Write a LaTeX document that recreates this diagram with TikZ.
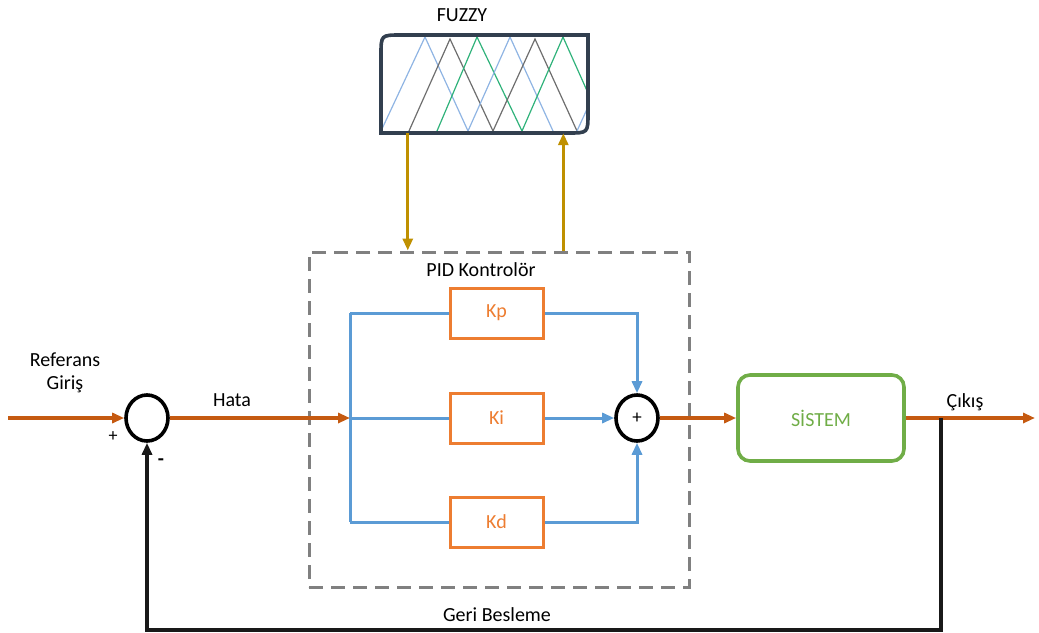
\documentclass[tikz,border=0pt]{standalone}
\usepackage{fontspec}
\setmainfont{Carlito}
\usetikzlibrary{arrows.meta,shapes.geometric,calc}
\definecolor{flow}{HTML}{C55A11}
\definecolor{gain}{HTML}{ED7D31}
\definecolor{branch}{HTML}{5B9BD5}
\definecolor{plant}{HTML}{70AD47}
\definecolor{tune}{HTML}{BF9000}
\definecolor{frame}{HTML}{323F4F}
\definecolor{mfblue}{HTML}{8FB4E3}
\definecolor{mfgray}{HTML}{6E6E6E}
\definecolor{mfgreen}{HTML}{2FB27A}
\tikzset{
  tip/.style={-{Triangle[length=12pt,width=10pt]}},
  sumnode/.style={ellipse,draw=black,line width=3.6pt,minimum width=42pt,minimum height=46pt,inner sep=0pt,font=\fontsize{19}{20}\selectfont},
  gainbox/.style={rectangle,draw=gain,line width=3pt,minimum width=93pt,minimum height=50pt,text=gain,font=\fontsize{20}{22}\selectfont},
  lbl/.style={font=\fontsize{20}{23}\selectfont,align=center,inner sep=0pt},
  sig/.style={draw=flow,line width=3.5pt},
  br/.style={draw=branch,line width=3pt},
  fb/.style={draw=black!90,line width=3.5pt},
  adj/.style={draw=tune,line width=3pt},
}
\begin{document}
\begin{tikzpicture}[x=1pt,y=-1pt]
\useasboundingbox (0,0) rectangle (1039,632);

% fuzzy block with membership functions
\node (fuzzy) [minimum width=207pt,minimum height=98pt,inner sep=0pt] at (484.5,84) {};
\node[lbl] (fuzzytxt) at (462,15) {FUZZY};
\begin{scope}
  \clip (381,133) -- (381,55) .. controls (381,35) .. (401,35) -- (588,35) -- (588,113) .. controls (588,133) .. (568,133) -- cycle;
  \begin{scope}[line width=1.2pt]
    \draw[mfblue]  (381,131) -- (425,37) -- (468,131);
    \draw[mfgray]  (409,131) -- (450,39) -- (493,131);
    \draw[mfgreen] (437,131) -- (477,37) -- (522,131);
    \draw[mfblue]  (468,131) -- (510,37) -- (553,131);
    \draw[mfgray]  (493,131) -- (535,39) -- (577,131);
    \draw[mfgreen] (522,131) -- (563,37) -- (605,131);
    \draw[mfblue]  (577,131) -- (620,37);
  \end{scope}
\end{scope}
\draw[frame,line width=3.6pt] (381,133) -- (381,55) .. controls (381,35) .. (401,35) -- (588,35) -- (588,113) .. controls (588,133) .. (568,133) -- cycle;

% PID controller frame
\node (pid) [draw=gray,dashed,dash pattern=on 14pt off 8pt,line width=3pt,minimum width=380pt,minimum height=335pt,inner sep=0pt] at (499,419.5) {};
\node[lbl] (pidtxt) at (481,270) {PID Kontrolör};

\coordinate (dn) at ($(fuzzy.south west)!0.13!(fuzzy.south east)$);
\coordinate (up) at ($(fuzzy.south west)!0.88!(fuzzy.south east)$);
\draw[adj,tip,tune] (dn) -- (dn |- pid.north);
\draw[adj,tip,tune] (up |- pid.north) -- (up);

% gains
\node[gainbox] (kp) at (496.5,313) {Kp};
\node[gainbox] (ki) at (496.5,418) {Ki};
\node[gainbox] (kd) at (496.5,522) {Kd};

% summing junctions
\node[sumnode] (s1) at (147,418) {};
\node[sumnode] (s2) at (637,418) {+};

% plant
\node (sys) [draw=plant,line width=3.6pt,rounded corners=12pt,minimum width=166pt,minimum height=86pt,text=plant,font=\fontsize{20}{22}\selectfont] at (821,418) {SİSTEM};

\coordinate (in) at (8,418);
\coordinate (j) at (350,418);
\coordinate (out) at (1035,418);
\coordinate (tap) at (941,418);
\coordinate (fbc) at (941,630);

% branches
\draw[br] (kp.west -| j) -- (kd.west -| j);
\draw[br] (kp.west -| j) -- (kp.west);
\draw[br] (j) -- (ki.west);
\draw[br] (kd.west -| j) -- (kd.west);
\draw[br,tip,branch] (kp.east) -| (s2.north);
\draw[br,tip,branch] (ki.east) -- (s2.west);
\draw[br,tip,branch] (kd.east) -| (s2.south);

% main signal path
\draw[sig,tip,flow] (in) -- (s1.west);
\draw[sig,tip,flow] (s1.east) -- (j);
\draw[sig,tip,flow] (s2.east) -- (sys.west);
\draw[sig,tip,flow] (sys.east) -- (out);

% feedback
\draw[fb,tip] (tap) -- (fbc) -| (s1.south);

% labels
\node[lbl] (ref) at (65,373) {Referans\\Giriş};
\node[lbl] (hata) at (232,400) {Hata};
\node[lbl] (cikis) at (965,402) {Çıkış};
\node[lbl] (geri) at (497,615) {Geri Besleme};
\node[lbl,font=\fontsize{18}{20}\selectfont] (plus) at (113,437) {+};
\node[lbl,font=\bfseries\fontsize{20}{22}\selectfont] (minus) at (161,462) {-};
\end{tikzpicture}
\end{document}
